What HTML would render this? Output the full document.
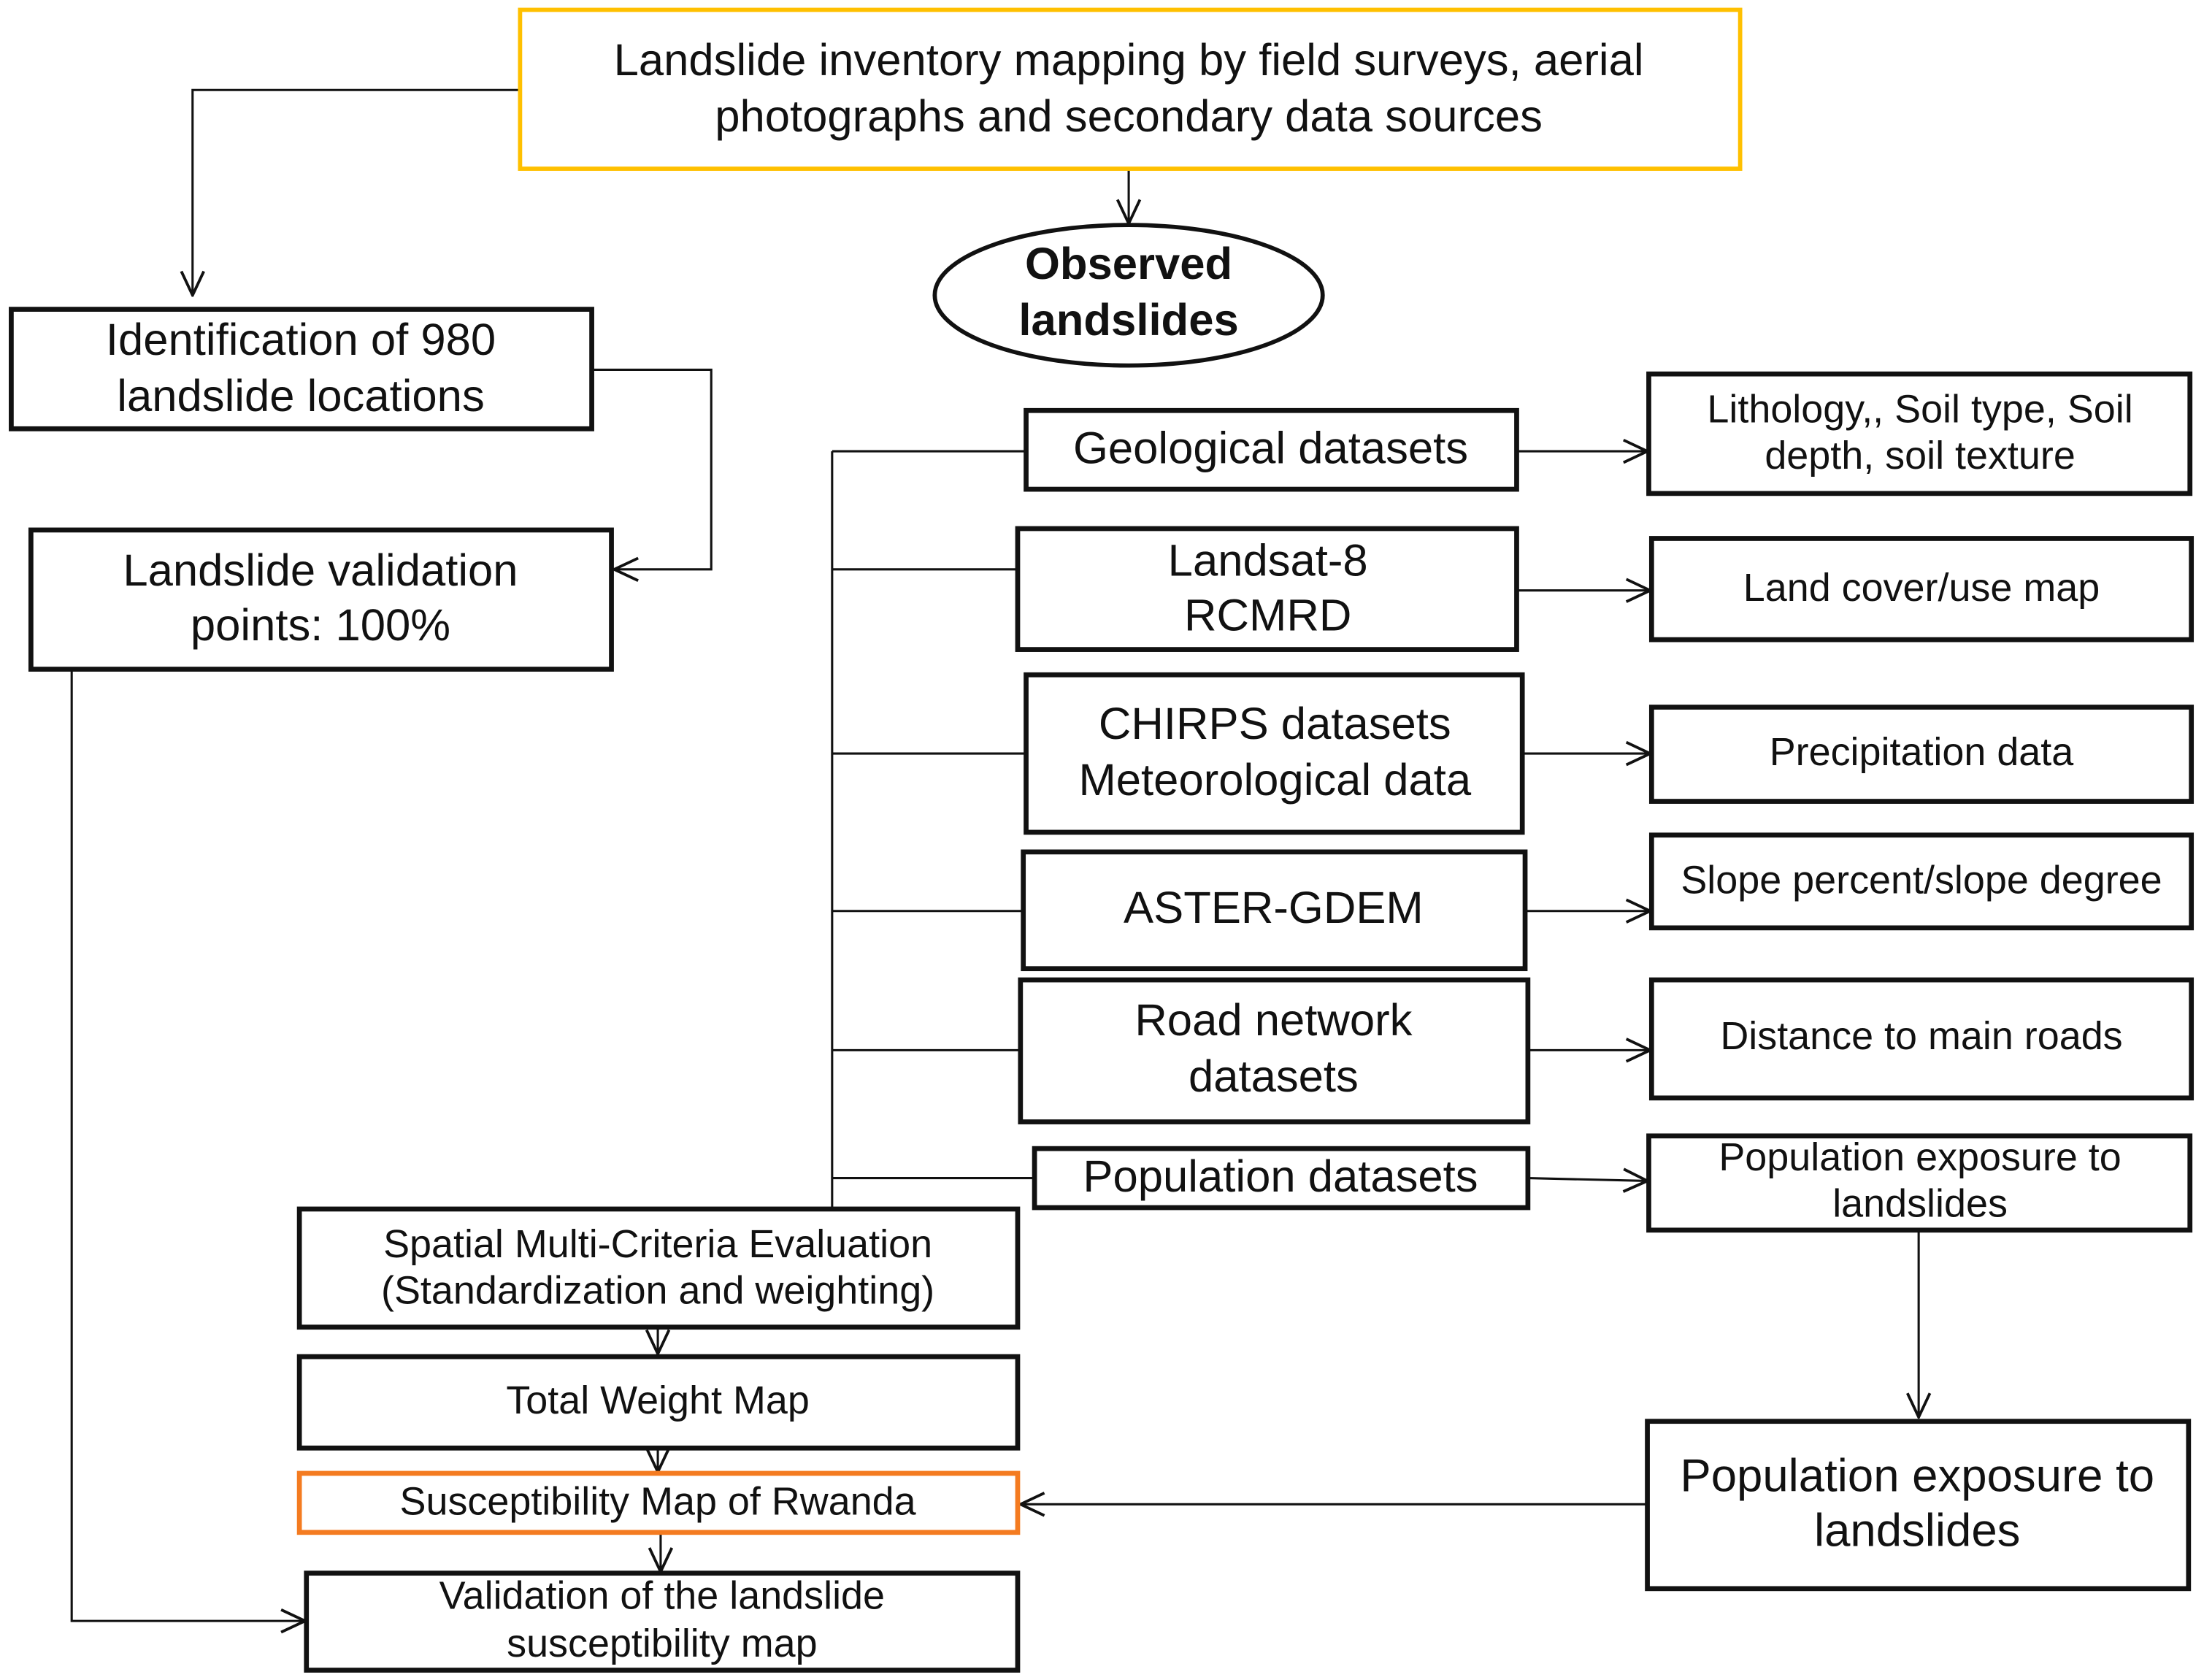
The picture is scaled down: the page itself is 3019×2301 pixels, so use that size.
<!DOCTYPE html>
<html><head><meta charset="utf-8"><style>
html,body{margin:0;padding:0;background:#fff;}
svg{display:block;}
text{font-family:"Liberation Sans",Arial,sans-serif;fill:#111;text-anchor:middle;dominant-baseline:middle;}
</style></head><body>
<svg width="3019" height="2301" viewBox="0 0 1568 1195" preserveAspectRatio="none" xmlns="http://www.w3.org/2000/svg">
<defs>
<marker id="a" viewBox="0 0 20 20" refX="19" refY="10" markerWidth="20" markerHeight="20" markerUnits="userSpaceOnUse" orient="auto">
<path d="M2,2 L19,10 L2,18" fill="none" stroke="#111" stroke-width="2"/>
</marker>
</defs>
<g fill="none" stroke="#111" stroke-width="1.6">
<polyline points="370,64 137,64 137,210" marker-end="url(#a)"/>
<line x1="803" y1="120" x2="803" y2="159" marker-end="url(#a)"/>
<polyline points="421,263 506,263 506,405 437,405" marker-end="url(#a)"/>
<polyline points="51,476 51,1153 217,1153" marker-end="url(#a)"/>
<line x1="592" y1="321" x2="592" y2="860"/>
<line x1="592" y1="321" x2="730" y2="321"/>
<line x1="592" y1="405" x2="724" y2="405"/>
<line x1="592" y1="536" x2="730" y2="536"/>
<line x1="592" y1="648" x2="728" y2="648"/>
<line x1="592" y1="747" x2="726" y2="747"/>
<line x1="592" y1="838" x2="736" y2="838"/>
<line x1="1079" y1="321" x2="1172" y2="321" marker-end="url(#a)"/>
<line x1="1079" y1="420" x2="1174" y2="420" marker-end="url(#a)"/>
<line x1="1083" y1="536" x2="1174" y2="536" marker-end="url(#a)"/>
<line x1="1085" y1="648" x2="1174" y2="648" marker-end="url(#a)"/>
<line x1="1087" y1="747" x2="1174" y2="747" marker-end="url(#a)"/>
<line x1="1087" y1="838" x2="1172" y2="840" marker-end="url(#a)"/>
<line x1="1365" y1="875" x2="1365" y2="1008" marker-end="url(#a)"/>
<line x1="1172" y1="1070" x2="726" y2="1070" marker-end="url(#a)"/>
<line x1="468" y1="944" x2="468" y2="963" marker-end="url(#a)"/>
<line x1="468" y1="1030" x2="468" y2="1047" marker-end="url(#a)"/>
<line x1="470" y1="1090" x2="470" y2="1118" marker-end="url(#a)"/>
</g>
<g fill="#fff" stroke="#111" stroke-width="3.5">
<rect x="370" y="7" width="868" height="113" stroke="#FFC000" stroke-width="3"/>
<ellipse cx="803" cy="210" rx="138" ry="50" stroke-width="3"/>
<rect x="8" y="220" width="413" height="85"/>
<rect x="22" y="377" width="413" height="99"/>
<rect x="730" y="292" width="349" height="56"/>
<rect x="724" y="376" width="355" height="86"/>
<rect x="730" y="480" width="353" height="112"/>
<rect x="728" y="606" width="357" height="83"/>
<rect x="726" y="697" width="361" height="101"/>
<rect x="736" y="817" width="351" height="42"/>
<rect x="1173" y="266" width="385" height="85"/>
<rect x="1175" y="383" width="384" height="72"/>
<rect x="1175" y="503" width="384" height="67"/>
<rect x="1175" y="594" width="384" height="66"/>
<rect x="1175" y="697" width="384" height="84"/>
<rect x="1173" y="808" width="385" height="67"/>
<rect x="1172" y="1011" width="385" height="119"/>
<rect x="213" y="860" width="511" height="84"/>
<rect x="213" y="965" width="511" height="65"/>
<rect x="213" y="1048" width="511" height="42" stroke="#F47B20"/>
<rect x="218" y="1119" width="506" height="69"/>
</g>
<g font-size="32">
<text x="803" y="45">Landslide inventory mapping by field surveys, aerial</text>
<text x="803" y="85">photographs and secondary data sources</text>
<text x="803" y="190" font-weight="bold">Observed</text>
<text x="803" y="230" font-weight="bold">landslides</text>
<text x="214" y="244">Identification of 980</text>
<text x="214" y="284">landslide locations</text>
<text x="228" y="408">Landslide validation</text>
<text x="228" y="447">points: 100%</text>
<text x="904" y="321">Geological datasets</text>
<text x="902" y="401">Landsat-8</text>
<text x="902" y="440">RCMRD</text>
<text x="907" y="517">CHIRPS datasets</text>
<text x="907" y="557">Meteorological data</text>
<text x="906" y="648">ASTER-GDEM</text>
<text x="906" y="728">Road network</text>
<text x="906" y="768">datasets</text>
<text x="911" y="839">Population datasets</text>
<text x="1364" y="1052" font-size="33">Population exposure to</text>
<text x="1364" y="1091" font-size="33">landslides</text>
</g>
<g font-size="28">
<text x="1366" y="293">Lithology,, Soil type, Soil</text>
<text x="1366" y="326">depth, soil texture</text>
<text x="1367" y="420">Land cover/use map</text>
<text x="1367" y="537">Precipitation data</text>
<text x="1367" y="628">Slope percent/slope degree</text>
<text x="1367" y="739">Distance to main roads</text>
<text x="1366" y="825">Population exposure to</text>
<text x="1366" y="858">landslides</text>
<text x="468" y="887">Spatial Multi-Criteria Evaluation</text>
<text x="468" y="920">(Standardization and weighting)</text>
<text x="468" y="998">Total Weight Map</text>
<text x="468" y="1070">Susceptibility Map of Rwanda</text>
<text x="471" y="1137">Validation of the landslide</text>
<text x="471" y="1171">susceptibility map</text>
</g>
</svg>
</body></html>
